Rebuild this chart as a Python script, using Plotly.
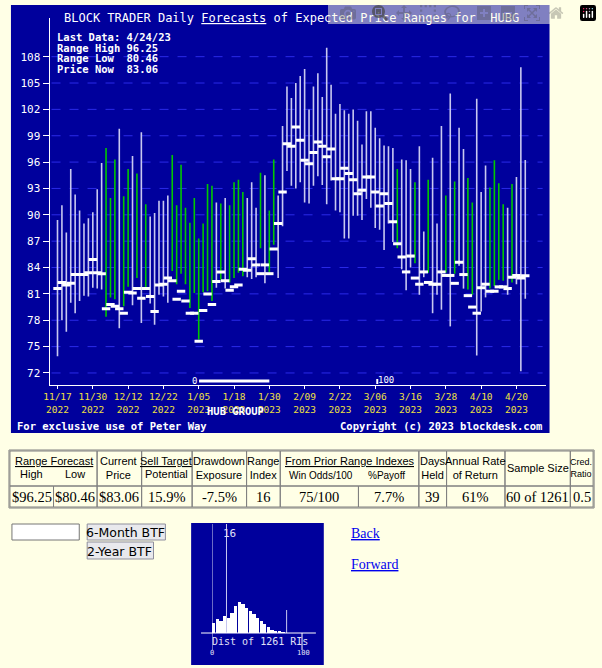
import plotly.graph_objects as go

W, H = 602, 668
def px(x): return x / W
def py(y): return 1 - y / H

# ---------------- data ----------------
tick_labels = ["11/17<br>2022", "11/30<br>2022", "12/12<br>2022", "12/22<br>2022", "1/05<br>2023",
               "1/18<br>2023", "1/30<br>2023", "2/09<br>2023", "2/22<br>2023", "3/06<br>2023",
               "3/16<br>2023", "3/28<br>2023", "4/10<br>2023", "4/20<br>2023"]
tick_pos = [0, 8, 16, 24, 32, 40, 48, 56, 64, 72, 80, 88, 96, 104]

lows = [73.9, 78.0, 76.7, 80.0, 78.8, 80.2, 80.8, 80.7, 81.7, 81.6, 81.5, 78.4, 80.6, 80.4, 77.1, 79.6,
        81.8, 79.7, 82.8, 77.7, 81.7, 79.9, 77.5, 80.9, 80.7, 80.0, 83.6, 82.1, 83.3, 82.1, 79.4, 81.1,
        75.8, 81.2, 81.3, 80.2, 81.7, 82.6, 81.6, 82.3, 82.8, 83.4, 83.0, 82.9, 82.7, 82.9, 86.2, 82.2,
        83.5, 86.6, 82.8, 88.7, 95.0, 93.3, 93.0, 93.7, 91.4, 91.3, 93.3, 94.4, 93.4, 91.2, 93.9, 90.5,
        90.3, 87.3, 87.3, 89.9, 89.9, 89.4, 91.8, 90.8, 88.5, 88.3, 86.0, 89.0, 86.9, 86.2, 83.8, 81.4,
        84.0, 84.5, 80.9, 82.9, 83.4, 78.8, 80.9, 79.2, 83.4, 77.3, 83.3, 84.2, 81.6, 81.5, 80.9, 74.0,
        79.0, 80.6, 81.6, 81.9, 82.6, 82.5, 80.9, 82.3, 82.1, 72.2, 80.46]
highs = [89.4, 91.1, 88.0, 95.2, 92.3, 90.5, 89.0, 89.6, 90.3, 92.9, 95.9, 97.6, 91.9, 96.3, 99.8, 92.1,
         95.2, 96.7, 94.7, 99.4, 91.2, 89.8, 90.2, 91.6, 91.6, 92.2, 96.8, 91.1, 95.7, 90.8, 89.1, 91.9,
         87.3, 89.0, 93.5, 93.3, 91.4, 91.3, 91.9, 91.1, 93.7, 94.0, 92.6, 91.9, 93.7, 90.8, 94.8, 94.5,
         90.5, 96.3, 92.2, 100.1, 104.6, 103.3, 105.0, 105.8, 106.6, 102.0, 104.6, 106.1, 103.4, 109.0,
         104.8, 101.5, 102.6, 101.9, 101.5, 102.0, 100.7, 98.0, 101.8, 101.8, 99.9, 98.7, 97.9, 97.8,
         97.6, 95.2, 96.3, 96.2, 95.2, 93.7, 97.8, 88.1, 94.0, 96.5, 89.0, 100.1, 92.2, 103.8, 93.8,
         99.9, 97.5, 94.2, 91.4, 103.2, 92.6, 95.6, 93.1, 96.2, 93.6, 91.2, 90.8, 93.5, 94.3, 106.8, 96.25]
prices = [81.6, 82.3, 82.0, 82.2, 83.2, 83.2, 83.2, 83.4, 84.9, 83.4, 83.3, 79.3, 79.8, 79.6, 79.3, 78.8,
          81.2, 81.1, 81.6, 80.5, 81.6, 80.7, 79.0, 82.0, 82.1, 82.8, 82.5, 80.4, 81.3, 80.2, 78.8, 78.8,
          75.6, 79.1, 81.0, 79.8, 82.4, 83.5, 82.5, 81.4, 81.8, 82.0, 83.8, 83.7, 85.0, 84.3, 83.3, 84.3,
          83.3, 86.1, 89.0, 92.6, 98.1, 97.8, 100.0, 98.5, 96.2, 95.8, 97.1, 98.3, 97.8, 96.6, 97.5, 94.1,
          94.1, 95.3, 94.7, 94.0, 92.4, 92.8, 94.3, 94.3, 92.6, 91.0, 92.4, 91.3, 89.2, 86.7, 85.2, 83.5,
          85.3, 82.8, 82.1, 83.5, 82.3, 82.1, 82.1, 83.5, 83.1, 83.1, 82.2, 84.6, 83.2, 80.8, 79.5, 78.8,
          81.7, 82.1, 81.3, 81.3, 81.8, 81.8, 81.6, 82.9, 83.1, 82.8, 83.06]
green = ([0]*11 + [1, 1, 1, 0, 1, 1, 0, 1, 0, 1, 0, 0, 0, 0, 0, 1, 1, 1, 1, 1, 1, 1, 1, 1, 1, 0, 1, 0, 1,
         1, 1, 1, 0, 0, 0, 1, 0, 1, 1, 0, 0] + [0]*25 +
         [1, 0, 0, 0, 1, 0, 0, 1, 0, 0, 0, 1, 0, 1, 0, 0, 1, 1, 0, 0, 0, 1, 1, 1, 1, 0, 1, 0, 0, 0])
y_ticks = [72, 75, 78, 81, 84, 87, 90, 93, 96, 99, 102, 105, 108]

hist_bins = [2, 6, 10, 14, 18, 22, 26, 30, 34, 38, 42, 46, 50, 54, 58, 62, 66, 70, 74, 78]
hist_counts = [20, 28, 25, 35, 30, 40, 55, 62, 58, 50, 44, 38, 30, 24, 18, 12, 7, 5, 3, 2]

# ---------------- figure ----------------
fig = go.Figure()
n = len(lows)
gx, gy, wx, wy = [], [], [], []
for i in range(n):
    if green[i]:
        gx += [i, i, None]; gy += [lows[i], highs[i], None]
    else:
        wx += [i, i, None]; wy += [lows[i], highs[i], None]
fig.add_trace(go.Scatter(x=wx, y=wy, mode="lines", line=dict(color="#C8C8F0", width=1.6), hoverinfo="skip"))
fig.add_trace(go.Scatter(x=gx, y=gy, mode="lines", line=dict(color="#00C800", width=1.6), hoverinfo="skip"))
fig.add_trace(go.Scatter(x=list(range(n)), y=prices, mode="markers",
                         marker=dict(symbol="line-ew", size=6, line=dict(color="white", width=3))))

fig.add_trace(go.Bar(x=hist_bins, y=hist_counts, width=3.6, marker=dict(color="white", line_width=0),
                     xaxis="x2", yaxis="y2"))

BLUE = "#00009C"
MONO = "DejaVu Sans Mono"
shapes = [
    dict(type="rect", xref="paper", yref="paper", x0=px(5), x1=px(549), y0=py(433), y1=py(5),
         fillcolor=BLUE, line_width=0, layer="below"),
    dict(type="rect", xref="paper", yref="paper", x0=px(187), x1=px(321), y0=py(665), y1=py(523),
         fillcolor=BLUE, line_width=0, layer="below"),
    dict(type="line", xref="paper", yref="paper", x0=px(195), x1=px(266), y0=py(381), y1=py(381),
         line=dict(color="white", width=3)),
    dict(type="line", xref="paper", yref="paper", x0=px(375), x1=px(375), y0=py(384), y1=py(379),
         line=dict(color="white", width=2)),
]
for yv in y_ticks:
    shapes.append(dict(type="line", xref="paper", yref="y", x0=px(46), x1=px(542), y0=yv, y1=yv,
                       line=dict(color="#2A2AE8", width=1, dash="dash"), layer="below"))

shapes += [
    dict(type="line", xref="x2", yref="paper", x0=0, x1=0, y0=py(650), y1=py(524), line=dict(color="white", width=1)),
    dict(type="line", xref="x2", yref="paper", x0=16, x1=16, y0=py(633), y1=py(524), line=dict(color="#C8C8F0", width=1)),
    dict(type="line", xref="x2", yref="paper", x0=82, x1=82, y0=py(633), y1=py(610), line=dict(color="#C8C8F0", width=1)),
    dict(type="line", xref="paper", yref="paper", x0=px(197), x1=px(313), y0=py(633), y1=py(633), line=dict(color="white", width=1)),
    dict(type="line", xref="paper", yref="paper", x0=px(299), x1=px(299), y0=py(650), y1=py(633), line=dict(color="white", width=1)),
]

TL, TM, TB = 451, 486, 507
GREY = "#808080"
def cell(x0, x1, y0, y1):
    shapes.append(dict(type="rect", xref="paper", yref="paper", x0=px(x0), x1=px(x1), y0=py(y1), y1=py(y0),
                       line=dict(color=GREY, width=1)))
shapes.append(dict(type="rect", xref="paper", yref="paper", x0=px(3), x1=px(594), y0=py(TB + 1), y1=py(TL - 1),
                   line=dict(color=GREY, width=1)))
hdr_cols = [(4, 92), (92, 137), (137, 188), (188, 243), (243, 277), (277, 417), (417, 445), (445, 504), (504, 570), (570, 593)]
val_cols = [(4, 48), (48, 92), (92, 137), (137, 188), (188, 243), (243, 277), (277, 356), (356, 417), (417, 445),
            (445, 504), (504, 570), (570, 593)]
for a, b in hdr_cols: cell(a, b, TL, TM)
for a, b in val_cols: cell(a, b, TM, TB)

shapes += [
    dict(type="rect", xref="paper", yref="paper", x0=px(6), x1=px(74), y0=py(540), y1=py(524),
         fillcolor="white", line=dict(color="#767676", width=1)),
    dict(type="rect", xref="paper", yref="paper", x0=px(82), x1=px(161), y0=py(540), y1=py(524),
         fillcolor="#E9E9ED", line=dict(color="#8F8F9D", width=1)),
    dict(type="rect", xref="paper", yref="paper", x0=px(82), x1=px(149), y0=py(559), y1=py(542),
         fillcolor="#E9E9ED", line=dict(color="#8F8F9D", width=1)),
]

ann = []
def A(x, y, t, size=11, color="white", family=MONO, xa="center", ya="middle"):
    ann.append(dict(x=px(x), y=py(y), xref="paper", yref="paper",
                    text=t, showarrow=False, font=dict(size=size, color=color, family=family),
                    xanchor=xa, yanchor=ya))

A(57, 18, "BLOCK TRADER Daily <u>Forecasts</u> of Expected Price Ranges for  HUBG", 12, xa="left")
for k, t in enumerate(["Last Data: 4/24/23", "Range High 96.25", "Range Low  80.46", "Price Now  83.06"]):
    A(49, 37 + k * 10.7, "<b>" + t + "</b>", 10.5, xa="left")
A(232, 411, "<b>HUB GROUP</b>", 10.5)
A(9, 426, "<b>For exclusive use of Peter Way</b>", 10.5, xa="left")
A(543, 426, "<b>Copyright (c) 2023 blockdesk.com</b>", 10.5, xa="right")
A(190, 381, "0", 9)
A(384, 380, "100", 9)

SANS, SERIF = "Liberation Sans", "Liberation Serif"
A(48, 461, "<u>Range Forecast</u>", 11, "black", SANS)
A(26, 474, "High", 11, "black", SANS); A(70, 474, "Low", 11, "black", SANS)
A(114, 468, "Current<br>Price", 11, "black", SANS)
A(162, 461, "<u>Sell Target</u>", 11, "black", SANS); A(162, 474, "Potential", 11, "black", SANS)
A(215, 468, "Drawdown<br>Exposure", 11, "black", SANS)
A(260, 468, "Range<br>Index", 11, "black", SANS)
A(347, 461, "<u>From Prior Range Indexes</u>", 11, "black", SANS)
A(318, 475, "Win Odds/100", 10, "black", SANS); A(384, 475, "%Payoff", 10, "black", SANS)
A(431, 468, "Days<br>Held", 11, "black", SANS)
A(474, 468, "Annual Rate<br>of Return", 11, "black", SANS)
A(537, 468, "Sample Size", 11, "black", SANS)
A(581, 468, "Cred.<br>Ratio", 9, "black", SANS)
vals = ["$96.25", "$80.46", "$83.06", "15.9%", "-7.5%", "16", "75/100", "7.7%", "39", "61%", "60 of 1261", "0.5"]
for (a, b), v in zip(val_cols, vals):
    A((a + b) / 2, 497, v, 14.5, "black", SERIF)

A(121, 532, "6-Month BTF", 12.5, "black", "DejaVu Sans")
A(115, 551, "2-Year BTF", 12.5, "black", "DejaVu Sans")
A(346, 533, "<u>Back</u>", 14, "#0000EE", SERIF, xa="left")
A(346, 564, "<u>Forward</u>", 14, "#0000EE", SERIF, xa="left")
A(226, 533, "16", 11, "#E0E0F8", MONO)
A(257, 641, "Dist of 1261 RIs", 10, "#E0E0F8", MONO)
A(208, 653, "0", 7, "#E0E0F8", MONO); A(300, 653, "100", 7, "#E0E0F8", MONO)

fig.update_layout(
    width=W, height=H, margin=dict(l=0, r=0, t=0, b=0), paper_bgcolor="#FFFFE6",
    plot_bgcolor="rgba(0,0,0,0)", showlegend=False, shapes=shapes, annotations=ann,
    xaxis=dict(domain=[px(44), px(545)], range=[-1.8, 110.6], showgrid=False, zeroline=False,
               tickvals=tick_pos, ticktext=tick_labels, tickfont=dict(color="#F0E040", size=9.5, family=MONO),
               ticks="outside", tickcolor="white", ticklen=3, showline=True, linecolor="white", linewidth=1),
    yaxis=dict(domain=[py(385), py(18)], range=[70.63, 112.4], showgrid=False, zeroline=False,
               tickvals=y_ticks, tickfont=dict(color="white", size=11, family=MONO), ticks="outside",
               tickcolor="white", ticklen=6, showline=True, linecolor="white", linewidth=1),
    xaxis2=dict(domain=[px(208), px(300)], range=[0, 100], visible=False, anchor="y2"),
    yaxis2=dict(domain=[py(633), py(530)], range=[0, 206], visible=False, anchor="x2"),
    bargap=0,
)
fig.write_html("out.html", post_script="document.body.style.margin='0';document.body.style.overflow='hidden';")
